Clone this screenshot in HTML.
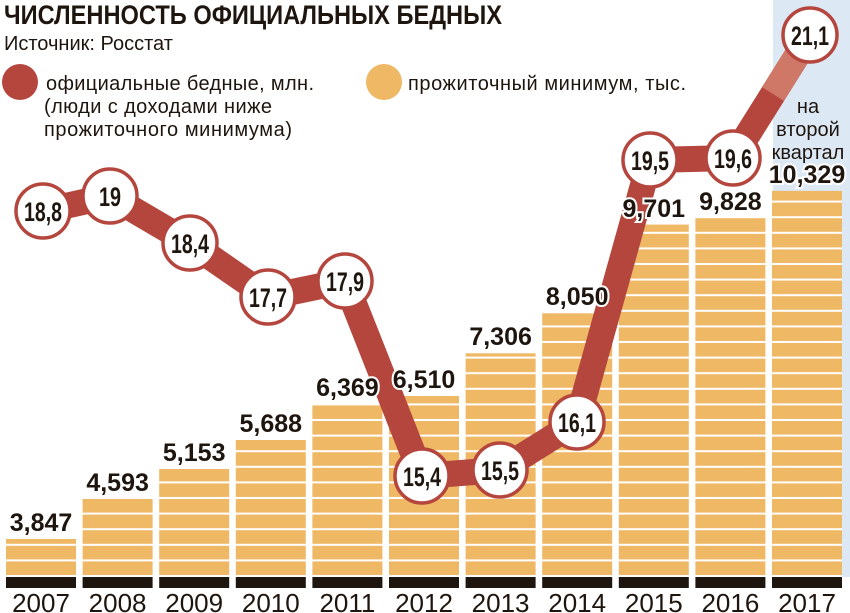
<!DOCTYPE html>
<html><head><meta charset="utf-8"><style>
body{margin:0;width:850px;height:613px;overflow:hidden;background:#fff;}
svg{display:block}
text{font-family:"Liberation Sans Narrow","Liberation Sans",sans-serif;fill:#1e150e;}
.v{font-size:25px;font-weight:bold;text-anchor:middle;stroke:#fff;stroke-width:4px;paint-order:stroke;}
.y{font-size:26px;text-anchor:middle;}
.c{font-size:27px;font-weight:bold;text-anchor:middle;}
</style></head><body>
<svg width="850" height="613" xmlns="http://www.w3.org/2000/svg">
<defs>
<pattern id="st" x="0" y="577" width="10" height="15.6" patternUnits="userSpaceOnUse">
<rect width="10" height="15.6" fill="#efb865"/><rect y="13.6" width="10" height="2" fill="#fff"/>
</pattern>
</defs>
<rect x="773" y="0" width="77" height="577" fill="#dde8f5"/>
<g fill="url(#st)">
<rect x="6" y="539" width="70" height="38"/>
<rect x="82.6" y="499" width="70" height="78"/>
<rect x="159.2" y="469" width="70" height="108"/>
<rect x="235.8" y="440" width="70" height="137"/>
<rect x="312.4" y="403.6" width="70" height="173.4"/>
<rect x="389" y="396" width="70" height="181"/>
<rect x="465.6" y="353.3" width="70" height="223.7"/>
<rect x="542.2" y="313.3" width="70" height="263.7"/>
<rect x="618.8" y="224.6" width="70" height="352.4"/>
<rect x="695.4" y="217.8" width="70" height="359.2"/>
<rect x="772" y="190.9" width="70" height="386.1"/>
</g>
<g fill="#1e150e">
<rect x="6" y="577" width="70" height="11"/><rect x="82.6" y="577" width="70" height="11"/><rect x="159.2" y="577" width="70" height="11"/><rect x="235.8" y="577" width="70" height="11"/><rect x="312.4" y="577" width="70" height="11"/><rect x="389" y="577" width="70" height="11"/><rect x="465.6" y="577" width="70" height="11"/><rect x="542.2" y="577" width="70" height="11"/><rect x="618.8" y="577" width="70" height="11"/><rect x="695.4" y="577" width="70" height="11"/><rect x="772" y="577" width="70" height="11"/>
</g>
<text class="y" x="41" y="612">2007</text>
<text class="y" x="117.6" y="612">2008</text>
<text class="y" x="194.2" y="612">2009</text>
<text class="y" x="270.8" y="612">2010</text>
<text class="y" x="347.4" y="612">2011</text>
<text class="y" x="424" y="612">2012</text>
<text class="y" x="500.6" y="612">2013</text>
<text class="y" x="577.2" y="612">2014</text>
<text class="y" x="653.8" y="612">2015</text>
<text class="y" x="730.4" y="612">2016</text>
<text class="y" x="807" y="612">2017</text>
<polyline points="43,211 110,196 190,243 268,297 345,281 422,476 500,470 577,422 650,160 733,158 810,35" fill="none" stroke="#b4463d" stroke-width="26" stroke-linejoin="round"/>
<line x1="773" y1="94" x2="810" y2="35" stroke="#d07868" stroke-width="26"/>
<text class="v" x="41" y="531">3,847</text>
<text class="v" x="117.6" y="491">4,593</text>
<text class="v" x="194.2" y="461">5,153</text>
<text class="v" x="270.8" y="432">5,688</text>
<text class="v" x="347.4" y="396">6,369</text>
<text class="v" x="424" y="388">6,510</text>
<text class="v" x="500.6" y="345">7,306</text>
<text class="v" x="577.2" y="305">8,050</text>
<text class="v" x="653.8" y="217">9,701</text>
<text class="v" x="730.4" y="210">9,828</text>
<text class="v" x="807" y="183">10,329</text>
<g fill="#fff" stroke="#b4463d" stroke-width="3.5">
<circle cx="43" cy="211" r="27"/><circle cx="110" cy="196" r="27"/><circle cx="190" cy="243" r="27"/><circle cx="268" cy="297" r="27"/><circle cx="345" cy="281" r="27"/><circle cx="422" cy="476" r="27"/><circle cx="500" cy="470" r="27"/><circle cx="577" cy="422" r="27"/><circle cx="650" cy="160" r="27"/><circle cx="733" cy="158" r="27"/><circle cx="810" cy="35" r="27"/>
</g>
<text class="c" x="43" y="221" textLength="38" lengthAdjust="spacingAndGlyphs">18,8</text>
<text class="c" x="110" y="206" textLength="22" lengthAdjust="spacingAndGlyphs">19</text>
<text class="c" x="190" y="253" textLength="38" lengthAdjust="spacingAndGlyphs">18,4</text>
<text class="c" x="268" y="307" textLength="38" lengthAdjust="spacingAndGlyphs">17,7</text>
<text class="c" x="345" y="291" textLength="38" lengthAdjust="spacingAndGlyphs">17,9</text>
<text class="c" x="422" y="486" textLength="38" lengthAdjust="spacingAndGlyphs">15,4</text>
<text class="c" x="500" y="480" textLength="38" lengthAdjust="spacingAndGlyphs">15,5</text>
<text class="c" x="577" y="432" textLength="38" lengthAdjust="spacingAndGlyphs">16,1</text>
<text class="c" x="650" y="170" textLength="38" lengthAdjust="spacingAndGlyphs">19,5</text>
<text class="c" x="733" y="168" textLength="38" lengthAdjust="spacingAndGlyphs">19,6</text>
<text class="c" x="810" y="45" textLength="38" lengthAdjust="spacingAndGlyphs">21,1</text>
<text x="808" y="113" text-anchor="middle" font-size="20">на</text>
<text x="808" y="136" text-anchor="middle" font-size="20">второй</text>
<text x="808" y="159" text-anchor="middle" font-size="20">квартал</text>
<text x="4" y="24" font-size="27" font-weight="bold" textLength="498" lengthAdjust="spacingAndGlyphs">ЧИСЛЕННОСТЬ ОФИЦИАЛЬНЫХ БЕДНЫХ</text>
<text x="4" y="50" font-size="20">Источник: Росстат</text>
<circle cx="20" cy="82" r="18" fill="#b4463d"/>
<text x="46" y="90" font-size="20" textLength="268">официальные бедные, млн.</text>
<text x="44" y="113" font-size="20" textLength="228">(люди с доходами ниже</text>
<text x="44" y="136" font-size="20" textLength="248">прожиточного минимума)</text>
<circle cx="384" cy="82" r="18" fill="#efb865"/>
<text x="408" y="90" font-size="20" textLength="278">прожиточный минимум, тыс.</text>
</svg>
</body></html>
